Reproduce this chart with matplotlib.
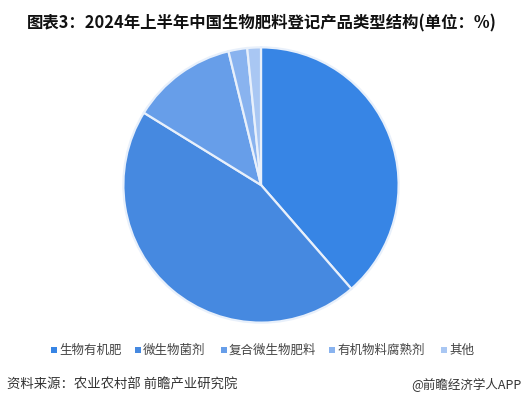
import matplotlib
matplotlib.use("Agg")
import matplotlib.pyplot as plt
from matplotlib.patches import Rectangle

plt.rcParams['font.family'] = ['Noto Sans CJK SC', 'DejaVu Sans']

title = "图表3：2024年上半年中国生物肥料登记产品类型结构(单位：%)"
categories = ["生物有机肥", "微生物菌剂", "复合微生物肥料", "有机物料腐熟剂", "其他"]
values = [38.6, 45.2, 12.4, 2.2, 1.6]
colors = ["#3785e5", "#4689e0", "#679ee9", "#89b3ef", "#a9c7f3"]
source = "资料来源：农业农村部 前瞻产业研究院"
credit = "@前瞻经济学人APP"

W, H = 525, 407
fig = plt.figure(figsize=(W / 100, H / 100), dpi=100)
fig.patch.set_facecolor("white")

# pie axes: center (261,185), radius ~138 px
r = 139
cx, cy = 261, 185
ax = fig.add_axes([(cx - r) / W, 1 - (cy + r) / H, 2 * r / W, 2 * r / H])
ax.pie(values, colors=colors, startangle=90, counterclock=False,
       wedgeprops=dict(edgecolor="#e8f0fb", linewidth=1.6), radius=1.0)
ax.set_xlim(-1.01, 1.01)
ax.set_ylim(-1.01, 1.01)
ax.set_aspect("equal")
ax.axis("off")

fig.text(262 / W, 1 - 23 / H, title, ha="center", va="center",
         fontsize=11.8, fontweight="bold", color="#111111")

# legend
leg_x = [54, 138, 224, 332, 444]
ly = 350
for x, c, lab in zip(leg_x, colors, categories):
    fig.patches.append(Rectangle(((x - 3) / W, 1 - (ly + 3) / H), 6 / W, 6 / H,
                                 transform=fig.transFigure, facecolor=c,
                                 edgecolor="none"))
    fig.text((x + 5) / W, 1 - ly / H, lab, ha="left", va="center",
             fontsize=9, color="#444444")

fig.text(7 / W, 1 - 385 / H, source, ha="left", va="center",
         fontsize=9.6, color="#333333")
fig.text(521 / W, 1 - 385 / H, credit, ha="right", va="center",
         fontsize=9, color="#333333")

fig.savefig("out.png", dpi=100, facecolor="white")
